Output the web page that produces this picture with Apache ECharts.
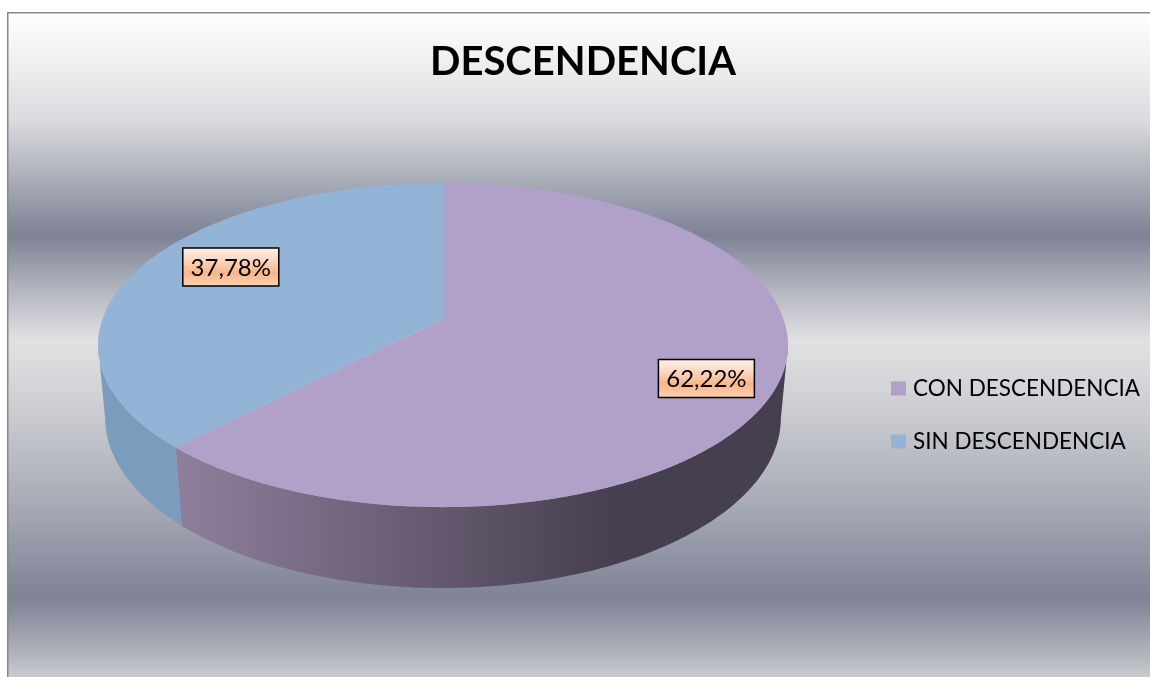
<!DOCTYPE html>
<html>
<head>
<meta charset="utf-8">
<script src="https://cdn.jsdelivr.net/npm/echarts@6/dist/echarts.min.js"></script>
<style>
  html, body { margin: 0; padding: 0; background: #ffffff; }
  #chart { width: 1150px; height: 677px; }
</style>
</head>
<body>
<div id="chart"></div>
<script>
// datos del gráfico
const categories = ['CON DESCENDENCIA', 'SIN DESCENDENCIA'];
const values = [62.22, 37.78];

// colores de cada porción (cara superior y pared lateral)
const topColors = ['#b1a0c7', '#93b3d7'];
const wallColors = [
  new echarts.graphic.LinearGradient(0, 0, 1, 0, [
    { offset: 0, color: '#8f7f9c' },
    { offset: 0.72, color: '#463f4f' },
    { offset: 1, color: '#463f4f' }
  ]),
  '#7c9cbd'
];

// ajuste fino de la posición de las etiquetas (px)
const labelNudge = [[5, 11], [23, -8]];

// proyección en perspectiva de un disco inclinado (tipo Excel 3D)
const TILT_SIN = 0.4637;
const TILT_COS = 0.886;
const DIST = 5.511;
const DEPTH = 0.2432;
const LABEL_R = 0.78;
// ángulos donde la pared deja de verse (silueta)
const SIL_L = Math.acos(-TILT_COS / DIST) * 180 / Math.PI;
const SIL_R = 360 - SIL_L;

function project(phiDeg, r, y) {
  const p = phiDeg * Math.PI / 180;
  const X = r * Math.sin(p);
  const Z = r * Math.cos(p);
  const up = y * TILT_COS + Z * TILT_SIN;
  const depth = DIST + Z * TILT_COS - y * TILT_SIN;
  return [X * DIST / depth, up * DIST / depth];
}

function arc(a, b, y) {
  const pts = [];
  const n = Math.max(2, Math.ceil(Math.abs(b - a)));
  for (let k = 0; k <= n; k++) {
    pts.push(project(a + (b - a) * k / n, 1, y));
  }
  return pts;
}

function formatPct(v) {
  return v.toFixed(2).replace('.', ',') + '%';
}

const labelFill = new echarts.graphic.LinearGradient(0, 0, 0, 1, [
  { offset: 0, color: '#fff1ec' },
  { offset: 0.3, color: '#fdd9c6' },
  { offset: 0.65, color: '#f9b589' },
  { offset: 1, color: '#fdd4b4' }
]);

function renderSlice(params, api) {
  const i = params.seriesIndex;
  const total = values.reduce((a, b) => a + b, 0);
  const start = values.slice(0, i).reduce((a, b) => a + b, 0) / total * 360;
  const end = start + api.value(2) / total * 360;
  const toPx = pt => api.coord(pt);
  const children = [];

  // pared lateral visible
  const a = Math.max(start, SIL_L);
  const b = Math.min(end, SIL_R);
  if (b > a) {
    const pts = arc(a, b, 0).concat(arc(b, a, -DEPTH));
    children.push({
      type: 'polygon',
      shape: { points: pts.map(toPx) },
      style: { fill: wallColors[i] },
      z2: 1
    });
  }

  // cara superior
  const topPts = [project(0, 0, 0)].concat(arc(start, end, 0));
  children.push({
    type: 'polygon',
    shape: { points: topPts.map(toPx) },
    style: { fill: api.visual('color') },
    z2: 5
  });

  // etiqueta de porcentaje
  const mid = (start + end) / 2;
  const c = toPx(project(mid, LABEL_R, 0));
  const cx = c[0] + labelNudge[i][0];
  const cy = c[1] + labelNudge[i][1];
  children.push({
    type: 'rect',
    shape: { x: cx - 48, y: cy - 19, width: 96, height: 38 },
    style: { fill: labelFill, stroke: '#000000', lineWidth: 1.5 },
    z2: 10
  });
  children.push({
    type: 'text',
    x: cx,
    y: cy + 1,
    style: {
      text: formatPct(api.value(2)),
      fill: '#000000',
      font: '24px Lato',
      align: 'center',
      verticalAlign: 'middle'
    },
    z2: 11
  });

  return { type: 'group', children };
}

const bgFill = new echarts.graphic.LinearGradient(0, 0, 0, 1, [
  { offset: 0, color: '#ffffff' },
  { offset: 0.07, color: '#f0f0f1' },
  { offset: 0.159, color: '#dadbde' },
  { offset: 0.247, color: '#a9adb8' },
  { offset: 0.328, color: '#7d8295' },
  { offset: 0.409, color: '#b4b6c0' },
  { offset: 0.482, color: '#e1e1e3' },
  { offset: 0.571, color: '#cfd0d4' },
  { offset: 0.718, color: '#a9acb7' },
  { offset: 0.86, color: '#7d8295' },
  { offset: 0.938, color: '#afb1ba' },
  { offset: 0.978, color: '#cbccd1' },
  { offset: 1, color: '#d5d6da' }
]);

const chart = echarts.init(document.getElementById('chart'));

const option = {
  animation: false,
  graphic: [{
    type: 'rect',
    left: 7,
    top: 12,
    shape: { width: 1150, height: 680 },
    style: { fill: bgFill, stroke: '#888888', lineWidth: 1.5 },
    z: 0,
    silent: true
  }],
  title: {
    text: 'DESCENDENCIA',
    left: 578,
    top: 37,
    textAlign: 'center',
    textStyle: {
      fontFamily: 'Lato',
      fontWeight: 'bold',
      fontSize: 40,
      color: '#000000'
    }
  },
  legend: {
    data: categories,
    orient: 'vertical',
    left: 891,
    top: 377,
    padding: 0,
    icon: 'rect',
    itemWidth: 15,
    itemHeight: 14,
    itemGap: 30,
    textStyle: {
      fontFamily: 'Lato',
      fontSize: 22.5,
      color: '#000000',
      padding: [0, 0, 0, 2]
    }
  },
  grid: { left: 68.45, top: 46.6, width: 749.1, height: 612.9 },
  xAxis: { type: 'value', min: -1.1, max: 1.1, show: false },
  yAxis: { type: 'value', min: -1, max: 0.8, show: false },
  series: categories.map((name, i) => ({
    name: name,
    type: 'custom',
    renderItem: renderSlice,
    itemStyle: { color: topColors[i] },
    encode: { x: 0, y: 1 },
    data: [[0, 0, values[i]]]
  }))
};

chart.setOption(option);
</script>
</body>
</html>
